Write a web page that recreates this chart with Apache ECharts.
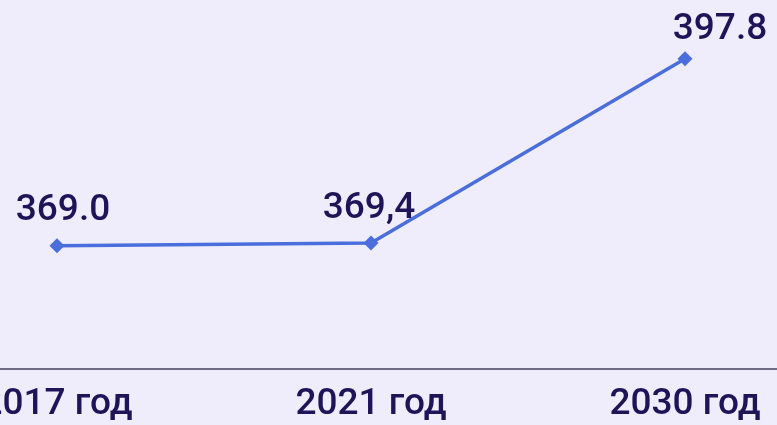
<!DOCTYPE html>
<html>
<head>
<meta charset="utf-8">
<script src="https://cdn.jsdelivr.net/npm/echarts@6/dist/echarts.min.js"></script>
<style>
html, body { margin: 0; padding: 0; background: #efecfc; }
#chart { width: 777px; height: 425px; }
</style>
</head>
<body>
<div id="chart"></div>
<script>
var years = ['2017 год', '2021 год', '2030 год'];
var values = [369.0, 369.4, 397.8];
var valueLabels = ['369.0', '369,4', '397.8'];

// label nudges, the last one sits to the right of its point
var labelOffsets = [[6, -2], [-2, -1], [35, 4]];

var myChart = echarts.init(document.getElementById('chart'));
var seriesData = values.map(function(v, i) {
	return {
		value: v,
		label: { offset: labelOffsets[i] }
	};
});

var option = {
	backgroundColor: '#efecfc',
	grid: {
		left: -100,
		right: -65,
		top: 44.5,
		bottom: 56,
		outerBoundsMode: 'none',
		containLabel: false
	},
	xAxis: {
		type: 'category',
		data: years,
		boundaryGap: true,
		axisLine: {
			lineStyle: {
				color: '#6f6b86',
				width: 2
			}
		},
		axisTick: { show: false },
		axisLabel: {
			color: '#1f1458',
			fontFamily: 'Roboto',
			fontWeight: 500,
			fontSize: 37,
			margin: 17,
			interval: 0,
			hideOverlap: false
		}
	},
	yAxis: {
		type: 'value',
		min: 350,
		max: 400,
		show: false,
		splitLine: { show: false }
	},
	series: [{
		type: 'line',
		data: seriesData,
		symbol: 'diamond',
		symbolSize: 15,
		lineStyle: {
			color: '#4a6edb',
			width: 3.5
		},
		itemStyle: {
			color: '#4a6edb'
		},
		label: {
			show: true,
			position: 'top',
			distance: 7,
			color: '#1f1458',
			fontFamily: 'Roboto',
			fontWeight: 500,
			fontSize: 37,
			formatter: function(p) {
				return valueLabels[p.dataIndex];
			}
		}
	}]
};
myChart.setOption(option);
</script>
</body>
</html>
